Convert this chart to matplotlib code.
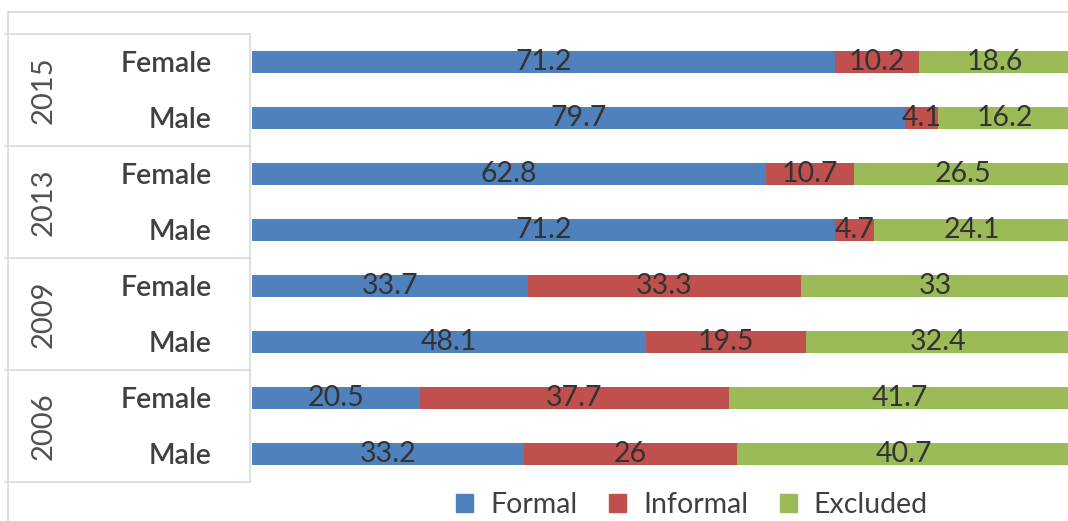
import matplotlib.pyplot as plt
import matplotlib.lines as mlines
import matplotlib.patches as mpatches
from matplotlib.transforms import blended_transform_factory

plt.rcParams['font.family'] = ['Lato', 'DejaVu Sans']

# data, top row first
years = ['2015', '2013', '2009', '2006']
genders = ['Female', 'Male'] * 4
formal = [71.2, 79.7, 62.8, 71.2, 33.7, 48.1, 20.5, 33.2]
informal = [10.2, 4.1, 10.7, 4.7, 33.3, 19.5, 37.7, 26]
excluded = [18.6, 16.2, 26.5, 24.1, 33, 32.4, 41.7, 40.7]

series = [('Formal', formal, '#4F81BD'),
          ('Informal', informal, '#C0504D'),
          ('Excluded', excluded, '#9BBB59')]

W, H = 1068, 521
fig = plt.figure(figsize=(W / 100, H / 100), dpi=100)
# plot area: x 252..1071 px, y 34..482 px
ax = fig.add_axes([252 / W, 1 - 482 / H, 819 / W, 448 / H])

ypos = list(range(len(genders)))
left = [0] * len(genders)
for name, vals, col in series:
    bars = ax.barh(ypos, vals, left=left, height=0.39, color=col, label=name)
    ax.bar_label(bars, labels=['{:g}'.format(v) for v in vals], label_type='center',
                 fontsize=20.5, color='#333333')
    left = [l + v for l, v in zip(left, vals)]

ax.set_xlim(0, 100)
ax.set_ylim(len(genders) - 0.5, -0.5)
ax.set_xticks([])
ax.set_yticks(ypos)
ax.set_yticklabels(genders, fontsize=20.5, color='#404040', fontweight='semibold')
ax.tick_params(axis='y', length=0, pad=29)
for s in ax.spines.values():
    s.set_visible(False)

# category table on the left
grid = '#D9D9D9'
tr = blended_transform_factory(fig.transFigure, ax.transData)
for i in range(len(years) + 1):
    yb = 2 * i - 0.5
    ax.plot([5 / W, 250 / W], [yb, yb], transform=tr, color=grid, lw=1.2, clip_on=False)
ax.plot([250 / W, 250 / W], [-0.5, len(genders) - 0.5], transform=tr, color=grid,
        lw=1.2, clip_on=False)
for i, yr in enumerate(years):
    ax.text(44 / W, 2 * i + 0.5, yr, transform=tr, rotation=90, ha='center', va='center',
            fontsize=21, color='#505050')

# chart border
fig.add_artist(mlines.Line2D([8 / W, 1], [1 - 12 / H, 1 - 12 / H], color=grid, lw=1.2))
fig.add_artist(mlines.Line2D([8 / W, 8 / W], [0, 1 - 12 / H], color=grid, lw=1.2))

handles = [mpatches.Patch(color=c, label=n) for n, _, c in series]
fig.legend(handles=handles, loc='center', bbox_to_anchor=(692 / W, 1 - 505 / H), ncol=3,
           frameon=False, fontsize=20.5, labelcolor='#404040', handlelength=0.6,
           handleheight=0.6, handletextpad=0.6, columnspacing=1.1)

fig.savefig('out.png', dpi=100)
